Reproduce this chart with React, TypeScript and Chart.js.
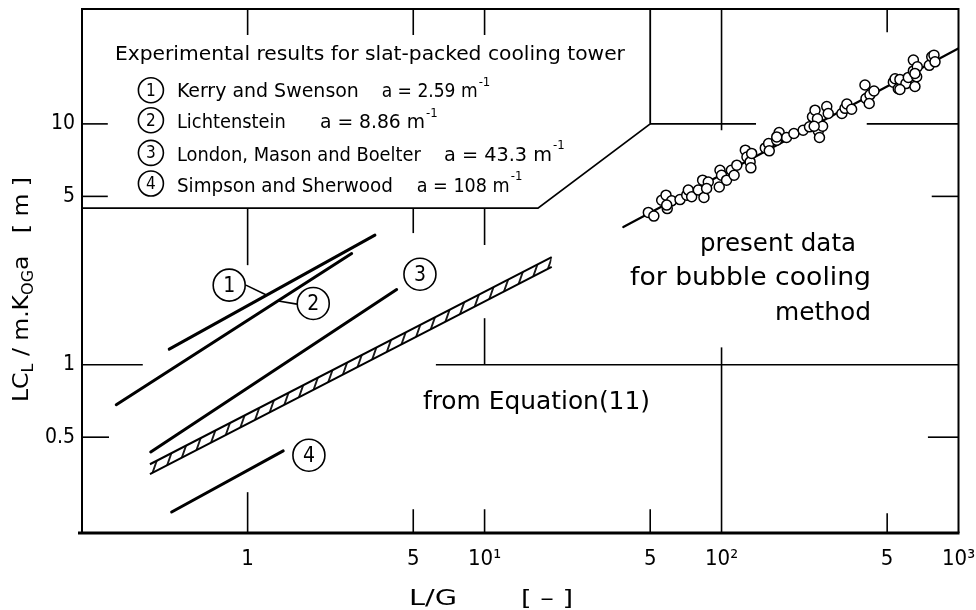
import { useEffect, useRef } from 'react';
import { Chart, registerables } from 'chart.js';

Chart.register(...registerables);

const FONT = '"DejaVu Sans Condensed", "DejaVu Sans", sans-serif';

// ---- axis ticks ----
const xTickValues = [1, 5, 10, 50, 100, 500, 1000];
const xTickLabels = ['1', '5', '10¹', '5', '10²', '5', '10³'];
const yTickValues = [0.5, 1, 5, 10];
const yTickLabels = ['0.5', '1', '5', '10'];

// ---- correlation lines (slat-packed towers) ----
const kerryX = [0.467, 3.445];
const kerryY = [1.16, 3.45];
const lichtX = [0.279, 2.748];
const lichtY = [0.682, 2.896];
const londonX = [0.39, 4.255];
const londonY = [0.434, 2.052];
const simpsonX = [0.478, 1.413];
const simpsonY = [0.2446, 0.4385];

// ---- band from Equation (11) ----
const eqX = [0.387, 19.2];
const eqUpperY = [0.386, 2.8];
const eqLowerY = [0.351, 2.55];

// ---- present data (bubble cooling) ----
const fitX = [38.5, 998];
const fitY = [3.73, 20.56];
const bubbleX = [49.1, 51.8, 55.9, 58.3, 59.0, 61.6, 66.8, 71.3, 72.4, 74.8, 79.8, 83.2, 84.3, 87.9, 86.5, 97.8, 98.5, 100, 105, 110, 113, 116, 126, 128, 132, 133, 134, 153, 158, 159, 171, 175, 188, 202, 221, 235, 242, 248, 254, 256, 259, 267, 278, 282, 322, 332, 338, 354, 403, 407, 423, 420, 440, 531, 540, 557, 566, 600, 614, 645, 645, 655, 666, 670, 753, 771, 788, 796, 246, 566, 655, 171, 58.7];
const bubbleY = [4.29, 4.14, 4.82, 5.06, 4.45, 4.79, 4.85, 5.06, 5.31, 4.98, 5.31, 5.84, 4.95, 5.74, 5.39, 5.47, 6.42, 6.12, 5.84, 6.42, 6.12, 6.74, 7.78, 7.29, 6.95, 6.57, 7.54, 7.95, 8.29, 7.73, 8.56, 9.21, 8.78, 9.12, 9.41, 9.72, 10.7, 11.4, 10.5, 9.35, 8.78, 9.78, 11.8, 11.05, 11.05, 11.6, 12.1, 11.5, 14.5, 12.75, 13.2, 12.15, 13.7, 14.9, 15.4, 14.0, 15.3, 14.7, 15.6, 18.4, 16.6, 14.3, 15.7, 17.25, 17.5, 19.0, 19.3, 18.1, 9.78, 13.9, 16.2, 8.83, 4.6];

// ---- legend box outline and broken grid / tick segments (data coordinates) ----
const boxOutline = [[0.2, 4.47], [16.8, 4.47], [50, 10], [50, 30]];
const gridSegments = [
  // x = 1
  [[1, 4.47], [1, 2.59]], [[1, 0.2955], [1, 0.2]], [[1, 30], [1, 23.4]],
  // x = 5
  [[5, 4.47], [5, 3.52]], [[5, 0.2], [5, 0.251]], [[5, 30], [5, 23.4]],
  // x = 10
  [[10, 4.47], [10, 3.14]], [[10, 1.56], [10, 1]], [[10, 0.2], [10, 0.251]], [[10, 30], [10, 23.4]],
  // x = 50
  [[50, 0.2], [50, 0.251]],
  // x = 100
  [[100, 30], [100, 9.41]], [[100, 1.18], [100, 0.2]],
  // x = 500
  [[500, 30], [500, 24]], [[500, 0.2], [500, 0.2416]],
  // y = 10
  [[0.2, 10], [0.257, 10]], [[50, 10], [139.8, 10]], [[410, 10], [1000, 10]],
  // y = 5
  [[0.2, 5], [0.257, 5]], [[771, 5], [1000, 5]],
  // y = 1
  [[0.2, 1], [0.361, 1]], [[6.23, 1], [1000, 1]],
  // y = 0.5
  [[0.2, 0.5], [0.26, 0.5]], [[743, 0.5], [1000, 0.5]],
];

// ---- leader lines from circled labels ----
const leaderLines = [
  [[0.9836, 2.14], [1.206, 1.944]],
  [[1.329, 1.844], [1.615, 1.784]],
];

const legendTitle = 'Experimental results for slat-packed cooling tower';
const legendNames = ['Kerry and Swenson', 'Lichtenstein', 'London, Mason and Boelter', 'Simpson and Sherwood'];
const legendAreas = ['a = 2.59 m', 'a = 8.86 m', 'a = 43.3 m', 'a = 108 m'];
const circledNumbers = ['1', '2', '3', '4'];

const pts = (xs: number[], ys: number[]) => xs.map((x, i) => ({ x, y: ys[i] }));

function fitText(ctx: CanvasRenderingContext2D, text: string, x: number, y: number, width: number, size: number) {
  ctx.font = `${size}px ${FONT}`;
  const w = ctx.measureText(text).width;
  ctx.save();
  ctx.translate(x, y);
  ctx.scale(width / w, 1);
  ctx.textAlign = 'left';
  ctx.textBaseline = 'alphabetic';
  ctx.fillText(text, 0, 0);
  ctx.restore();
}

function circled(ctx: CanvasRenderingContext2D, cx: number, cy: number, r: number, label: string, size: number) {
  ctx.save();
  ctx.beginPath();
  ctx.arc(cx, cy, r, 0, Math.PI * 2);
  ctx.lineWidth = 1.6;
  ctx.strokeStyle = '#000';
  ctx.stroke();
  ctx.font = `${size}px ${FONT}`;
  ctx.textAlign = 'center';
  ctx.textBaseline = 'middle';
  ctx.fillText(label, cx, cy + 1);
  ctx.restore();
}

const overlayPlugin = {
  id: 'overlay',
  beforeDatasetsDraw(chart: any) {
    const { ctx, chartArea: a, scales } = chart;
    const X = (v: number) => scales.x.getPixelForValue(v);
    const Y = (v: number) => scales.y.getPixelForValue(v);
    ctx.save();
    ctx.strokeStyle = '#000';
    ctx.lineCap = 'butt';
    // frame
    ctx.lineWidth = 2;
    ctx.beginPath();
    ctx.moveTo(a.left, a.bottom);
    ctx.lineTo(a.left, a.top);
    ctx.lineTo(a.right, a.top);
    ctx.lineTo(a.right, a.bottom);
    ctx.stroke();
    ctx.lineWidth = 3.2;
    ctx.beginPath();
    ctx.moveTo(a.left - 4, a.bottom);
    ctx.lineTo(a.right + 1, a.bottom);
    ctx.stroke();
    // legend box
    ctx.lineWidth = 1.8;
    ctx.beginPath();
    boxOutline.forEach(([x, y], i) => (i ? ctx.lineTo(X(x), Y(y)) : ctx.moveTo(X(x), Y(y))));
    ctx.stroke();
    // grid pieces and ticks
    ctx.lineWidth = 1.6;
    [...gridSegments, ...leaderLines].forEach((seg) => {
      ctx.beginPath();
      ctx.moveTo(X(seg[0][0]), Y(seg[0][1]));
      ctx.lineTo(X(seg[1][0]), Y(seg[1][1]));
      ctx.stroke();
    });
    ctx.restore();
  },
  afterDatasetsDraw(chart: any) {
    const { ctx, scales } = chart;
    const X = (v: number) => scales.x.getPixelForValue(v);
    const Y = (v: number) => scales.y.getPixelForValue(v);
    ctx.save();
    ctx.fillStyle = '#000';
    // legend block
    fitText(ctx, legendTitle, X(0.2754), Y(18.39), 510, 20);
    const circleY = [13.8, 10.36, 7.58, 5.655];
    const baseY = [12.91, 9.6, 7.03, 5.23];
    const nameW = [182, 109, 244, 216];
    const areaX = [3.678, 2.02, 6.74, 5.17];
    const areaW = [96, 105, 108, 93];
    legendNames.forEach((name, i) => {
      circled(ctx, X(0.3907), Y(circleY[i]), 12.5, circledNumbers[i], 17);
      fitText(ctx, name, X(0.5029), Y(baseY[i]), nameW[i], 19);
      const ax = X(areaX[i]);
      fitText(ctx, legendAreas[i], ax, Y(baseY[i]), areaW[i], 19);
      ctx.font = `13px ${FONT}`;
      ctx.textAlign = 'left';
      ctx.fillText('-1', ax + areaW[i] + 1, Y(baseY[i]) - 11.5);
    });
    // circled labels in plot
    circled(ctx, X(0.836), Y(2.14), 16, '1', 21);
    circled(ctx, X(1.892), Y(1.796), 16, '2', 21);
    circled(ctx, X(5.336), Y(2.376), 16, '3', 21);
    circled(ctx, X(1.814), Y(0.4209), 16, '4', 21);
    // plot annotations
    fitText(ctx, 'present data', X(81.1), Y(2.96), 156, 25);
    fitText(ctx, 'for bubble cooling', X(41.1), Y(2.14), 241, 25);
    fitText(ctx, 'method', X(168.1), Y(1.53), 96, 25);
    fitText(ctx, 'from Equation(11)', X(5.495), Y(0.6566), 227, 25);

    // x axis title
    fitText(ctx, 'L/G', 409, 605, 48, 22);
    fitText(ctx, '[ – ]', 521, 605, 52, 22);

    // y axis title (rotated, with subscripts)
    const parts: [string, number, number][] = [
      ['LC', 22, 0], ['L', 15, 5], [' / m.K', 22, 0], ['OG', 15, 5], ['a', 22, 0], ['   [ m ]', 22, 0],
    ];
    let total = 0;
    parts.forEach(([t, s]) => { ctx.font = `${s}px ${FONT}`; total += ctx.measureText(t).width; });
    const target = 225;
    const k = target / total;
    ctx.translate(28, 402);
    ctx.rotate(-Math.PI / 2);
    ctx.scale(k, 1);
    let cx = 0;
    parts.forEach(([t, s, dy]) => {
      ctx.font = `${s}px ${FONT}`;
      ctx.textAlign = 'left';
      ctx.textBaseline = 'alphabetic';
      ctx.fillText(t, cx, dy);
      cx += ctx.measureText(t).width;
    });
    ctx.restore();
  },
};

export default function App() {
  const ref = useRef<HTMLCanvasElement | null>(null);
  useEffect(() => {
    if (!ref.current) return;
    const ctx = ref.current.getContext('2d')!;
    const tile = document.createElement('canvas');
    tile.width = 12;
    tile.height = 12;
    const tctx = tile.getContext('2d')!;
    tctx.strokeStyle = '#000';
    tctx.lineWidth = 1.8;
    tctx.beginPath();
    tctx.moveTo(6, -2);
    tctx.lineTo(6, 14);
    tctx.stroke();
    const hatch = ctx.createPattern(tile, 'repeat')!;
    hatch.setTransform(new DOMMatrix([1, 0, -0.35, 1, 0, 0]));

    const lineDs = (data: { x: number; y: number }[], width: number) => ({
      type: 'line' as const,
      data,
      borderColor: '#000',
      borderWidth: width,
      pointRadius: 0,
      fill: false,
      borderCapStyle: 'round' as const,
    });

    const chart = new Chart(ctx, {
      type: 'line',
      data: {
        datasets: [
          {
            type: 'line',
            data: pts(bubbleX, bubbleY),
            showLine: false,
            pointRadius: 5,
            pointBorderWidth: 1.5,
            pointBackgroundColor: '#fff',
            pointBorderColor: '#000',
            borderColor: '#000',
          },
          lineDs(pts(fitX, fitY), 2.2),
          lineDs(pts(kerryX, kerryY), 3),
          lineDs(pts(lichtX, lichtY), 3),
          lineDs(pts(londonX, londonY), 3),
          lineDs(pts(simpsonX, simpsonY), 3),
          { ...lineDs(pts(eqX, eqUpperY), 2), borderCapStyle: 'butt' as const },
          { ...lineDs(pts(eqX, eqLowerY), 2), borderCapStyle: 'butt' as const, fill: '-1', backgroundColor: hatch },
        ] as any,
      },
      options: {
        animation: false,
        responsive: true,
        maintainAspectRatio: false,
        layout: { padding: { top: 9, right: 17.5, left: 0, bottom: 0 } },
        plugins: { legend: { display: false }, tooltip: { enabled: false } },
        scales: {
          x: {
            type: 'logarithmic',
            min: 0.2,
            max: 1000,
            afterBuildTicks: (s: any) => { s.ticks = xTickValues.map((v) => ({ value: v })); },
            afterFit: (s: any) => { s.height = 77; s.paddingLeft = 0; s.paddingRight = 0; },
            ticks: {
              autoSkip: false,
              maxRotation: 0,
              padding: 13,
              color: '#000',
              font: { family: FONT, size: 22 },
              callback: (_v: any, i: number) => xTickLabels[i],
            },
            grid: { display: false, drawTicks: false },
            border: { display: false },
          },
          y: {
            type: 'logarithmic',
            min: 0.2,
            max: 30,
            afterBuildTicks: (s: any) => { s.ticks = yTickValues.map((v) => ({ value: v })); },
            afterFit: (s: any) => { s.width = 82; s.paddingTop = 0; s.paddingBottom = 0; },
            ticks: {
              autoSkip: false,
              padding: 7,
              color: '#000',
              font: { family: FONT, size: 21 },
              callback: (_v: any, i: number) => yTickLabels[i],
            },
            grid: { display: false, drawTicks: false },
            border: { display: false },
          },
        },
      },
      plugins: [overlayPlugin],
    });
    return () => chart.destroy();
  }, []);

  return (
    <div style={{ position: 'absolute', left: 0, top: 0, width: 976, height: 610, background: '#fff' }}>
      <canvas ref={ref} />
    </div>
  );
}
